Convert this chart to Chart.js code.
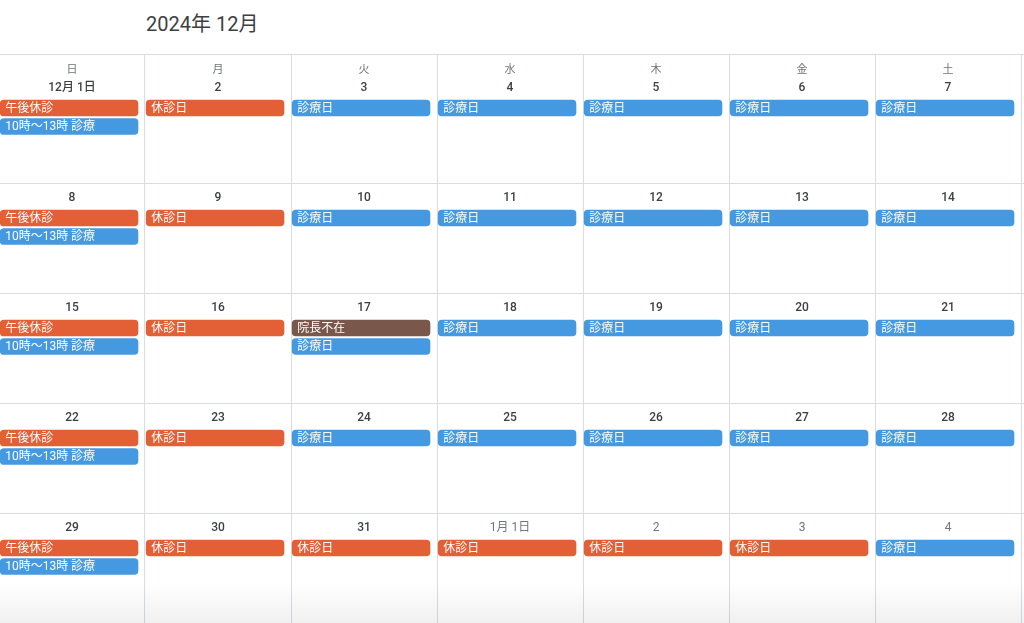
<!DOCTYPE html>
<html lang="ja">
<head>
<meta charset="utf-8">
<script src="https://cdn.jsdelivr.net/npm/chart.js@4.4.1/dist/chart.umd.min.js"></script>
<style>
  html, body { margin: 0; padding: 0; background: #fff; }
  body { width: 1024px; height: 623px; position: relative; overflow: hidden; font-family: Roboto, "Noto Sans CJK JP", sans-serif; }
  #title { position: absolute; left: 146px; top: 10px; font-size: 20px; line-height: 28px; color: #3c4043; }
  #wrap { position: absolute; left: 0; top: 54px; width: 1024px; height: 569px; }
  #shade { position: absolute; left: 0; bottom: 0; width: 1024px; height: 40px; pointer-events: none;
           background: linear-gradient(rgba(0,0,0,0), rgba(0,0,0,0.06)); }
</style>
</head>
<body>
<div id="title">2024年 12月</div>
<div id="wrap"><canvas id="calendar" width="1024" height="569"></canvas></div>
<div id="shade"></div>
<script>
const weekdays = ['日', '月', '火', '水', '木', '金', '土'];
const dateLabels = [
  '12月 1日', '2', '3', '4', '5', '6', '7',
  '8', '9', '10', '11', '12', '13', '14',
  '15', '16', '17', '18', '19', '20', '21',
  '22', '23', '24', '25', '26', '27', '28',
  '29', '30', '31', '1月 1日', '2', '3', '4'
];
const daysInMonth = 31; // the rest belong to January (grey)

// day index 0 = Dec 1 (Sunday)
const afternoonOffDays = [0, 7, 14, 21, 28];
const morningOnlyDays = [0, 7, 14, 21, 28];
const directorAbsentDays = [16];
const closedDays = [1, 8, 15, 22, 29, 30, 31, 32, 33];
const clinicDays = [2, 3, 4, 5, 6, 9, 10, 11, 12, 13, 16, 17, 18, 19, 20, 23, 24, 25, 26, 27, 34];

const ORANGE = '#e35f36';
const BLUE = '#4599e0';
const BROWN = '#79574b';

const eventTypes = [
  { title: '午後休診', days: afternoonOffDays, color: ORANGE },
  { title: '10時〜13時 診療', days: morningOnlyDays, color: BLUE },
  { title: '院長不在', days: directorAbsentDays, color: BROWN },
  { title: '休診日', days: closedDays, color: ORANGE },
  { title: '診療日', days: clinicDays, color: BLUE }
];

// y axis is in pixels from the top of the grid
const rowTops = [0, 129, 239, 349, 459];
const colEdges = [0, 1, 2, 3, 4, 5, 6, 7];

function rowTop(day) { return rowTops[Math.floor(day / 7)]; }
function firstSlot(day) { return rowTop(day) + (day < 7 ? 54 : 35); }

const used = {};
const datasets = eventTypes.map(t => ({
  label: t.title,
  backgroundColor: t.color,
  data: t.days.map(d => {
    const slot = used[d] || 0;
    used[d] = slot + 1;
    const col = d % 7;
    return { x: [col + 0.008, col + 0.952], y: firstSlot(d) + slot * 18.5 };
  })
}));

const calendarText = {
  id: 'calendarText',
  afterDatasetsDraw(chart) {
    const { ctx, scales: { x, y } } = chart;
    ctx.save();
    ctx.textAlign = 'center';
    ctx.textBaseline = 'middle';
    ctx.font = '11px Roboto, "Noto Sans CJK JP"';
    ctx.fillStyle = '#70757a';
    weekdays.forEach((w, i) => ctx.fillText(w, x.getPixelForValue(i + 0.5), y.getPixelForValue(16.5)));

    dateLabels.forEach((label, d) => {
      const inMonth = d < daysInMonth;
      ctx.font = (inMonth ? '500 ' : '') + '12px Roboto, "Noto Sans CJK JP"';
      ctx.fillStyle = inMonth ? '#3c4043' : '#70757a';
      const ty = d < 7 ? 34 : rowTop(d) + 15;
      ctx.fillText(label, x.getPixelForValue(d % 7 + 0.5), y.getPixelForValue(ty));
    });

    ctx.textAlign = 'left';
    ctx.font = '12px Roboto, "Noto Sans CJK JP"';
    ctx.fillStyle = '#ffffff';
    chart.data.datasets.forEach((ds, i) => {
      chart.getDatasetMeta(i).data.forEach(bar => {
        const p = bar.getProps(['x', 'y', 'base'], true);
        ctx.fillText(ds.label, Math.min(p.x, p.base) + 5, p.y + 0.5);
      });
    });
    ctx.restore();
  }
};

new Chart(document.getElementById('calendar'), {
  type: 'bar',
  data: { datasets },
  options: {
    indexAxis: 'y',
    responsive: false,
    animation: false,
    layout: { padding: 0 },
    datasets: { bar: { barThickness: 16, borderRadius: 4, borderSkipped: false, grouped: false } },
    plugins: { legend: { display: false }, tooltip: { enabled: false } },
    scales: {
      x: {
        type: 'linear', min: 1 / 146, max: 1025 / 146, offset: false,
        afterBuildTicks: s => { s.ticks = colEdges.map(v => ({ value: v })); },
        ticks: { display: false },
        grid: { color: c => c.tick && c.tick.value === 0 ? 'rgba(0,0,0,0)' : '#dadce0', drawTicks: false, offset: false },
        border: { display: false }
      },
      y: {
        type: 'linear', reverse: true, min: 0, max: 569, offset: false,
        afterBuildTicks: s => { s.ticks = rowTops.map(v => ({ value: v })); },
        ticks: { display: false },
        grid: { color: '#dadce0', drawTicks: false, offset: false },
        border: { display: false }
      }
    }
  },
  plugins: [calendarText]
});
</script>
</body>
</html>
